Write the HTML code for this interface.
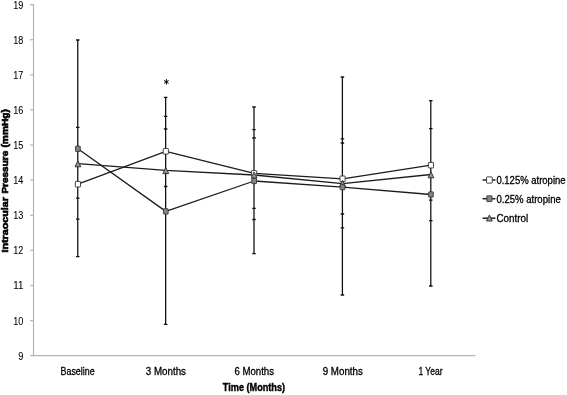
<!DOCTYPE html><html><head><meta charset="utf-8"><title>Intraocular Pressure</title><style>html,body{margin:0;padding:0;background:#fff}svg{display:block}text{font-family:"Liberation Sans",sans-serif;fill:#000;stroke:#000;stroke-width:0.3px}</style></head><body>
<svg width="567" height="395" viewBox="0 0 567 395">
<rect width="567" height="395" fill="#fff"/>
<g stroke="#b4b4b4" stroke-width="1.2" fill="none">
<line x1="33.5" y1="4.1" x2="33.5" y2="356.3"/>
<line x1="30.1" y1="355.7" x2="475.3" y2="355.7"/>
<line x1="30.1" y1="320.59" x2="33.5" y2="320.59"/>
<line x1="30.1" y1="285.48" x2="33.5" y2="285.48"/>
<line x1="30.1" y1="250.37" x2="33.5" y2="250.37"/>
<line x1="30.1" y1="215.26" x2="33.5" y2="215.26"/>
<line x1="30.1" y1="180.15" x2="33.5" y2="180.15"/>
<line x1="30.1" y1="145.04" x2="33.5" y2="145.04"/>
<line x1="30.1" y1="109.93" x2="33.5" y2="109.93"/>
<line x1="30.1" y1="74.82" x2="33.5" y2="74.82"/>
<line x1="30.1" y1="39.71" x2="33.5" y2="39.71"/>
<line x1="30.1" y1="4.60" x2="33.5" y2="4.60"/>
</g>
<text x="23.4" y="359.65" font-size="10" style="stroke-width:0.08px" text-anchor="end" textLength="5.1" lengthAdjust="spacingAndGlyphs">9</text>
<text x="23.4" y="324.54" font-size="10" style="stroke-width:0.08px" text-anchor="end" textLength="10.1" lengthAdjust="spacingAndGlyphs">10</text>
<text x="23.4" y="289.43" font-size="10" style="stroke-width:0.08px" text-anchor="end" textLength="10.1" lengthAdjust="spacingAndGlyphs">11</text>
<text x="23.4" y="254.32" font-size="10" style="stroke-width:0.08px" text-anchor="end" textLength="10.1" lengthAdjust="spacingAndGlyphs">12</text>
<text x="23.4" y="219.21" font-size="10" style="stroke-width:0.08px" text-anchor="end" textLength="10.1" lengthAdjust="spacingAndGlyphs">13</text>
<text x="23.4" y="184.10" font-size="10" style="stroke-width:0.08px" text-anchor="end" textLength="10.1" lengthAdjust="spacingAndGlyphs">14</text>
<text x="23.4" y="148.99" font-size="10" style="stroke-width:0.08px" text-anchor="end" textLength="10.1" lengthAdjust="spacingAndGlyphs">15</text>
<text x="23.4" y="113.88" font-size="10" style="stroke-width:0.08px" text-anchor="end" textLength="10.1" lengthAdjust="spacingAndGlyphs">16</text>
<text x="23.4" y="78.77" font-size="10" style="stroke-width:0.08px" text-anchor="end" textLength="10.1" lengthAdjust="spacingAndGlyphs">17</text>
<text x="23.4" y="43.66" font-size="10" style="stroke-width:0.08px" text-anchor="end" textLength="10.1" lengthAdjust="spacingAndGlyphs">18</text>
<text x="23.4" y="8.55" font-size="10" style="stroke-width:0.08px" text-anchor="end" textLength="10.1" lengthAdjust="spacingAndGlyphs">19</text>
<g stroke="#101010" stroke-width="1.28" fill="none">
<path d="M77.75 40.00V256.70"/>
<path d="M165.65 97.30V324.40"/>
<path d="M254.00 107.00V253.60"/>
<path d="M342.40 77.00V295.00"/>
<path d="M430.80 100.70V286.00"/>
</g>
<g stroke="#111" stroke-width="1.3" fill="none">
<path d="M76.00 40.00H79.50M76.00 127.40H79.50M76.00 198.20H79.50M76.00 219.10H79.50M76.00 256.70H79.50"/>
<path d="M163.90 97.30H167.40M163.90 116.30H167.40M163.90 129.00H167.40M163.90 186.50H167.40M163.90 324.40H167.40"/>
<path d="M252.25 107.00H255.75M252.25 129.70H255.75M252.25 138.00H255.75M252.25 208.30H255.75M252.25 219.50H255.75M252.25 253.60H255.75"/>
<path d="M340.65 77.00H344.15M340.65 138.80H344.15M340.65 143.00H344.15M340.65 214.00H344.15M340.65 227.80H344.15M340.65 295.00H344.15"/>
<path d="M429.05 100.70H432.55M429.05 128.70H432.55M429.05 200.20H432.55M429.05 220.70H432.55M429.05 286.00H432.55"/>
</g>
<g stroke="#1c1c1c" stroke-width="1.3" fill="none" stroke-linejoin="round">
<polyline points="77.90,184.20 165.80,151.30 254.15,173.40 342.55,178.80 430.95,165.20"/>
<polyline points="77.90,148.80 165.80,211.40 254.15,181.00 342.55,187.20 430.95,194.50"/>
<polyline points="77.90,163.60 165.80,170.40 254.15,175.00 342.55,183.60 430.95,174.50"/>
</g>
<rect x="75.33" y="181.42" width="5.15" height="5.55" fill="#fff" stroke="#3c3c3c" stroke-width="0.95" rx="0.4"/>
<rect x="163.23" y="148.53" width="5.15" height="5.55" fill="#fff" stroke="#3c3c3c" stroke-width="0.95" rx="0.4"/>
<rect x="251.58" y="170.62" width="5.15" height="5.55" fill="#fff" stroke="#3c3c3c" stroke-width="0.95" rx="0.4"/>
<rect x="339.97" y="176.03" width="5.15" height="5.55" fill="#fff" stroke="#3c3c3c" stroke-width="0.95" rx="0.4"/>
<rect x="428.38" y="162.42" width="5.15" height="5.55" fill="#fff" stroke="#3c3c3c" stroke-width="0.95" rx="0.4"/>
<path d="M77.90 160.70L80.80 166.80H75.00Z" fill="#959595" stroke="#333" stroke-width="0.95" stroke-linejoin="round"/>
<path d="M165.80 167.50L168.70 173.60H162.90Z" fill="#959595" stroke="#333" stroke-width="0.95" stroke-linejoin="round"/>
<path d="M254.15 172.00L257.05 178.10H251.25Z" fill="#959595" stroke="#333" stroke-width="0.95" stroke-linejoin="round"/>
<path d="M342.55 180.50L345.45 186.60H339.65Z" fill="#959595" stroke="#333" stroke-width="0.95" stroke-linejoin="round"/>
<path d="M430.95 171.70L433.85 177.80H428.05Z" fill="#959595" stroke="#333" stroke-width="0.95" stroke-linejoin="round"/>
<rect x="75.55" y="146.20" width="4.70" height="5.20" fill="#858585" stroke="#3c3c3c" stroke-width="0.95" rx="0.3"/>
<rect x="163.45" y="208.80" width="4.70" height="5.20" fill="#858585" stroke="#3c3c3c" stroke-width="0.95" rx="0.3"/>
<rect x="251.80" y="178.40" width="4.70" height="5.20" fill="#858585" stroke="#3c3c3c" stroke-width="0.95" rx="0.3"/>
<rect x="340.20" y="184.60" width="4.70" height="5.20" fill="#858585" stroke="#3c3c3c" stroke-width="0.95" rx="0.3"/>
<rect x="428.60" y="191.90" width="4.70" height="5.20" fill="#858585" stroke="#3c3c3c" stroke-width="0.95" rx="0.3"/>
<text transform="translate(166.3 88.3) scale(0.9 1.08)" font-size="11.2" font-weight="bold" text-anchor="middle" style="font-family:'DejaVu Sans',sans-serif;stroke:none">*</text>
<text x="60.60" y="374.8" font-size="10.6" textLength="34.0" lengthAdjust="spacingAndGlyphs">Baseline</text>
<text x="145.80" y="374.8" font-size="10.6" textLength="40.2" lengthAdjust="spacingAndGlyphs">3 Months</text>
<text x="234.40" y="374.8" font-size="10.6" textLength="39.6" lengthAdjust="spacingAndGlyphs">6 Months</text>
<text x="322.70" y="374.8" font-size="10.6" textLength="40.2" lengthAdjust="spacingAndGlyphs">9 Months</text>
<text x="418.40" y="374.8" font-size="10.6" textLength="24.2" lengthAdjust="spacingAndGlyphs">1 Year</text>
<text x="222.8" y="391.3" font-size="10.2" font-weight="bold" style="stroke-width:0.4px" textLength="62.3" lengthAdjust="spacingAndGlyphs">Time (Months)</text>
<text transform="translate(8.0 252.6) rotate(-90)" font-size="9.1" font-weight="bold" style="stroke-width:0.6px" textLength="55.6" lengthAdjust="spacingAndGlyphs">Intraocular</text>
<text transform="translate(8.0 193.6) rotate(-90)" font-size="9.1" font-weight="bold" style="stroke-width:0.6px" textLength="42.8" lengthAdjust="spacingAndGlyphs">Pressure</text>
<text transform="translate(8.0 147.6) rotate(-90)" font-size="9.1" font-weight="bold" style="stroke-width:0.6px" textLength="38.6" lengthAdjust="spacingAndGlyphs">(mmHg)</text>
<line x1="482.6" y1="180.0" x2="495.4" y2="180.0" stroke="#1c1c1c" stroke-width="1.5"/>
<rect x="486.57" y="176.90" width="5.65" height="6.20" fill="#fff" stroke="#3c3c3c" stroke-width="0.95" rx="0.4"/>
<text x="496.4" y="183.80" font-size="10.6" textLength="69.2" lengthAdjust="spacingAndGlyphs">0.125% atropine</text>
<line x1="482.6" y1="198.7" x2="495.4" y2="198.7" stroke="#1c1c1c" stroke-width="1.5"/>
<rect x="486.85" y="195.84" width="5.10" height="5.72" fill="#858585" stroke="#3c3c3c" stroke-width="0.95" rx="0.3"/>
<text x="496.4" y="202.50" font-size="10.6" textLength="64.4" lengthAdjust="spacingAndGlyphs">0.25% atropine</text>
<line x1="482.6" y1="218.2" x2="495.4" y2="218.2" stroke="#1c1c1c" stroke-width="1.5"/>
<path d="M489.40 214.90L492.30 221.00H486.50Z" fill="#959595" stroke="#333" stroke-width="0.95" stroke-linejoin="round"/>
<text x="496.4" y="222.00" font-size="10.6" textLength="31.7" lengthAdjust="spacingAndGlyphs">Control</text>
</svg></body></html>
